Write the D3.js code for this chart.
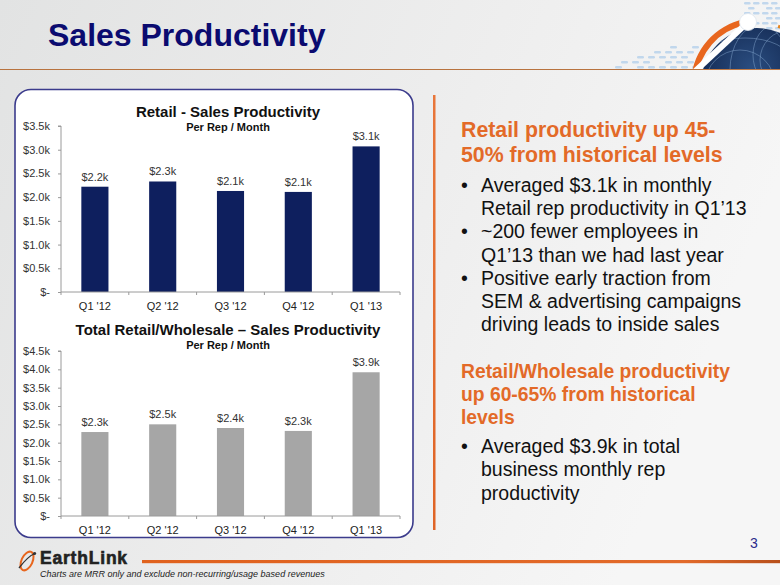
<!DOCTYPE html>
<html>
<head>
<meta charset="utf-8">
<script src="https://cdn.jsdelivr.net/npm/d3@7"></script>
<style>
  html, body { margin: 0; padding: 0; background: #ececec; }
  svg { display: block; font-family: Arial, "Liberation Sans", sans-serif; }
</style>
</head>
<body>
<svg id="chart" width="780" height="585"></svg>
<script>
// ---------- DATA ----------
const categories = ["Q1 '12", "Q2 '12", "Q3 '12", "Q4 '12", "Q1 '13"];
const retailValues = [2.22, 2.33, 2.13, 2.11, 3.07];
const retailLabels = ["$2.2k", "$2.3k", "$2.1k", "$2.1k", "$3.1k"];
const totalValues = [2.29, 2.50, 2.40, 2.32, 3.92];
const totalLabels = ["$2.3k", "$2.5k", "$2.4k", "$2.3k", "$3.9k"];
const retailTicks = [0, 0.5, 1.0, 1.5, 2.0, 2.5, 3.0, 3.5];
const totalTicks = [0, 0.5, 1.0, 1.5, 2.0, 2.5, 3.0, 3.5, 4.0, 4.5];
const pageTitle = "Sales Productivity";
const chart1Title = "Retail - Sales Productivity";
const chart2Title = "Total Retail/Wholesale \u2013 Sales Productivity";
const chartSubtitle = "Per Rep / Month";
const heading1 = ["Retail productivity up 45-", "50% from historical levels"];
const bullets1 = [
  ["Averaged $3.1k in monthly", "Retail rep productivity in Q1\u201913"],
  ["~200 fewer employees in", "Q1\u201913 than we had last year"],
  ["Positive early traction from", "SEM & advertising campaigns", "driving leads to inside sales"]
];
const heading2 = ["Retail/Wholesale productivity", "up 60-65% from historical", "levels"];
const bullets2 = [["Averaged $3.9k in total", "business monthly rep", "productivity"]];
const footnote = "Charts are MRR only and exclude non-recurring/usage based revenues";
const pageNumber = "3";

// ---------- SETUP ----------
const svg = d3.select("#chart");
const W = 780, H = 585;
const defs = svg.append("defs");

const bg = defs.append("linearGradient").attr("id", "bg").attr("x1", 0).attr("y1", 0).attr("x2", 1).attr("y2", 0.3);
bg.append("stop").attr("offset", "0%").attr("stop-color", "#e2e3e3");
bg.append("stop").attr("offset", "60%").attr("stop-color", "#eeeeee");
bg.append("stop").attr("offset", "100%").attr("stop-color", "#f6f6f6");
svg.append("rect").attr("width", W).attr("height", H).attr("fill", "url(#bg)");

// ---------- HEADER DECORATION (globe) ----------
const clip = defs.append("clipPath").attr("id", "topclip");
clip.append("rect").attr("x", 0).attr("y", 0).attr("width", W).attr("height", 69);
const globeClip = defs.append("clipPath").attr("id", "globeclip");
globeClip.append("circle").attr("cx", 757).attr("cy", 84).attr("r", 56);

const rg = defs.append("radialGradient").attr("id", "globe").attr("cx", "45%").attr("cy", "35%").attr("r", "70%");
rg.append("stop").attr("offset", "0%").attr("stop-color", "#2a4d80");
rg.append("stop").attr("offset", "100%").attr("stop-color", "#0a1a3e");

const deco = svg.append("g").attr("clip-path", "url(#topclip)");
// light blue dashes: lower-left cluster and upper-right cluster
const dashG = deco.append("g").attr("fill", "#b9d3ec").attr("opacity", 0.85);
for (let row = 0; row < 5; row++) {
  for (let col = 0; col < 8; col++) {
    const x = 700 - col * 11 - (row % 2) * 5;
    const y = 46 + row * 5;
    if (col > 2 + row * 1.5) continue;
    if ((row * 5 + col * 3) % 7 === 3) continue;
    dashG.append("rect").attr("x", x - 8).attr("y", y).attr("width", 7).attr("height", 2.4).attr("rx", 1.2);
  }
}
for (let row = 0; row < 8; row++) {
  for (let col = 0; col < 5; col++) {
    const x = 744 + col * 9 + (row % 2) * 4;
    const y = 2 + row * 5;
    if (col < (row > 4 ? 2 : 0)) continue;
    if ((row * 3 + col * 5) % 6 === 2) continue;
    dashG.append("rect").attr("x", x).attr("y", y).attr("width", 6.5).attr("height", 2.4).attr("rx", 1.2);
  }
}
deco.append("circle").attr("cx", 757).attr("cy", 84).attr("r", 56).attr("fill", "url(#globe)");
const gl = deco.append("g").attr("clip-path", "url(#globeclip)").attr("fill", "none")
  .attr("stroke", "#8fb0d8").attr("stroke-opacity", 0.55).attr("stroke-width", 0.8);
gl.append("ellipse").attr("cx", 760).attr("cy", 70).attr("rx", 30).attr("ry", 45);
gl.append("ellipse").attr("cx", 745).attr("cy", 60).attr("rx", 45).attr("ry", 22);
gl.append("ellipse").attr("cx", 775).attr("cy", 55).attr("rx", 22).attr("ry", 30);
gl.append("circle").attr("cx", 740).attr("cy", 85).attr("r", 35);
gl.append("circle").attr("cx", 790).attr("cy", 60).attr("r", 30);
const arc = d3.arc();
deco.append("path").attr("transform", "translate(757,84)")
  .attr("d", arc({ innerRadius: 60, outerRadius: 66, startAngle: -1.5, endAngle: -0.2 }))
  .attr("fill", "#e8661e");
deco.append("path").attr("transform", "translate(757,84)")
  .attr("d", arc({ innerRadius: 60, outerRadius: 63, startAngle: 0.35, endAngle: 1.3 }))
  .attr("fill", "#e8861e");
deco.append("line").attr("x1", 690).attr("y1", 76).attr("x2", 748).attr("y2", 22)
  .attr("stroke", "#ffffff").attr("stroke-width", 6);
deco.append("circle").attr("cx", 748).attr("cy", 22).attr("r", 8.5).attr("fill", "#ffffff")
  .attr("stroke", "#dde4ee").attr("stroke-width", 0.8);

svg.append("line").attr("x1", 0).attr("x2", 700).attr("y1", 69.5).attr("y2", 69.5)
  .attr("stroke", "#b8733f").attr("stroke-width", 1);
svg.append("line").attr("x1", 700).attr("x2", 780).attr("y1", 69.5).attr("y2", 69.5)
  .attr("stroke", "#c07a45").attr("stroke-width", 1);

// title
svg.append("text").attr("x", 48).attr("y", 46).text(pageTitle)
  .attr("font-size", 32).attr("font-weight", "bold").attr("fill", "#0b0b70");

// ---------- PANEL ----------
svg.append("rect").attr("x", 15).attr("y", 89.5).attr("width", 398).attr("height", 448)
  .attr("rx", 16).attr("fill", "#ffffff").attr("stroke", "#3b3b8c").attr("stroke-width", 1.6);

function drawChart(cfg) {
  const g = svg.append("g");
  const x = d3.scaleBand().domain(categories).range([61, 400]).paddingInner(0.6).paddingOuter(0.3);
  const y = d3.scaleLinear().domain(cfg.domain).range(cfg.range);

  // titles
  g.append("text").attr("x", 228).attr("y", cfg.titleY).attr("text-anchor", "middle")
    .attr("font-size", 15).attr("font-weight", "bold").attr("fill", "#111").text(cfg.title);
  g.append("text").attr("x", 228).attr("y", cfg.titleY + 14).attr("text-anchor", "middle")
    .attr("font-size", 11).attr("font-weight", "bold").attr("fill", "#111").text(chartSubtitle);

  // y axis
  const yAxis = d3.axisLeft(y).tickValues(cfg.ticks).tickSize(3).tickPadding(8)
    .tickFormat(v => v === 0 ? "$-" : "$" + v.toFixed(1) + "k");
  const ya = g.append("g").attr("transform", "translate(61,0)").call(yAxis);
  ya.select(".domain").attr("stroke", "#9a9a9a").attr("d", `M-3,${cfg.range[1]}H0V${cfg.range[0]}`);
  ya.selectAll(".tick line").attr("stroke", "#9a9a9a");
  ya.selectAll(".tick text").attr("font-size", 11).attr("fill", "#333").attr("font-family", "Arial, 'Liberation Sans', sans-serif");

  // bars
  g.selectAll(".bar").data(cfg.values).enter().append("rect")
    .attr("x", (d, i) => x(categories[i]))
    .attr("width", x.bandwidth())
    .attr("y", d => y(d))
    .attr("height", d => y(0) - y(d))
    .attr("fill", cfg.color);

  g.selectAll(".lbl").data(cfg.values).enter().append("text")
    .attr("x", (d, i) => x(categories[i]) + x.bandwidth() / 2)
    .attr("y", d => y(d) - 6)
    .attr("text-anchor", "middle").attr("font-size", 11).attr("fill", "#333")
    .text((d, i) => cfg.labels[i]);

  // x axis
  const xAxis = d3.axisBottom(x).tickSize(0).tickPadding(10);
  const xa = g.append("g").attr("transform", `translate(0,${cfg.range[0]})`).call(xAxis);
  xa.select(".domain").attr("stroke", "#9a9a9a").attr("d", "M61,0H400");
  xa.selectAll(".tick text").attr("font-size", 11).attr("fill", "#222").attr("font-family", "Arial, 'Liberation Sans', sans-serif");
  const bounds = categories.map(c => x(c) - x.step() * x.paddingOuter()).concat([400]);
  xa.selectAll(".bound").data(bounds).enter().append("line")
    .attr("x1", d => d).attr("x2", d => d).attr("y1", 0).attr("y2", 3).attr("stroke", "#9a9a9a");
}

drawChart({ title: chart1Title, titleY: 117, domain: [0, 3.5], range: [292, 126], ticks: retailTicks,
  values: retailValues, labels: retailLabels, color: "#0e1f5e" });
drawChart({ title: chart2Title, titleY: 335, domain: [0, 4.5], range: [516, 351], ticks: totalTicks,
  values: totalValues, labels: totalLabels, color: "#a6a6a6" });

// ---------- RIGHT TEXT ----------
const vg = defs.append("linearGradient").attr("id", "vline").attr("x1", 0).attr("y1", 0).attr("x2", 0).attr("y2", 1);
vg.append("stop").attr("offset", "0%").attr("stop-color", "#e8763a");
vg.append("stop").attr("offset", "100%").attr("stop-color", "#df6426");
svg.append("rect").attr("x", 433).attr("y", 95).attr("width", 2.5).attr("height", 435).attr("fill", "url(#vline)");

const orange = "#e36a28";
const tx = svg.append("g");
function lines(arr, x0, y0, lh, size, weight, color) {
  arr.forEach((t, i) => tx.append("text").attr("x", x0).attr("y", y0 + i * lh)
    .attr("font-size", size).attr("font-weight", weight).attr("fill", color).text(t));
}
lines(heading1, 461, 137, 25, 21.3, "bold", orange);
let yb = 192;
bullets1.forEach(b => {
  tx.append("text").attr("x", 461).attr("y", yb).attr("font-size", 19.5).attr("fill", "#111").text("\u2022");
  lines(b, 481, yb, 23.2, 19.5, "normal", "#111");
  yb += b.length * 23.2;
});
lines(heading2, 461, 378, 23, 19.3, "bold", orange);
yb = 453;
bullets2.forEach(b => {
  tx.append("text").attr("x", 461).attr("y", yb).attr("font-size", 19.5).attr("fill", "#111").text("\u2022");
  lines(b, 481, yb, 23.3, 19.5, "normal", "#111");
  yb += b.length * 23.3;
});

svg.append("text").attr("x", 750).attr("y", 548).attr("font-size", 14).attr("fill", "#2b2b8a").text(pageNumber);

// ---------- FOOTER ----------
const bl = defs.append("linearGradient").attr("id", "bline").attr("x1", 0).attr("y1", 0).attr("x2", 1).attr("y2", 0);
bl.append("stop").attr("offset", "0%").attr("stop-color", "#e0621e");
bl.append("stop").attr("offset", "85%").attr("stop-color", "#e26a2a");
bl.append("stop").attr("offset", "100%").attr("stop-color", "#b8501c");
svg.append("rect").attr("x", 142).attr("y", 560).attr("width", 638).attr("height", 3.2).attr("fill", "url(#bline)");

// logo
const logo = svg.append("g");
logo.append("ellipse").attr("cx", 27).attr("cy", 561).attr("rx", 5.5).attr("ry", 10)
  .attr("transform", "rotate(25,27,561)").attr("fill", "none").attr("stroke", "#e8661e").attr("stroke-width", 2);
logo.append("path").attr("d", "M19,568 Q28,556 36,553").attr("fill", "none").attr("stroke", "#333").attr("stroke-width", 1.3);
logo.append("circle").attr("cx", 34.5).attr("cy", 553.5).attr("r", 1.6).attr("fill", "#333");
logo.append("text").attr("x", 40).attr("y", 564).attr("font-size", 17.5).attr("font-weight", "bold")
  .attr("letter-spacing", 0.8).attr("fill", "#222").attr("stroke", "#222").attr("stroke-width", 0.6)
  .text("EarthLink");

svg.append("text").attr("x", 40).attr("y", 577).attr("font-size", 9).attr("font-style", "italic")
  .attr("fill", "#222").text(footnote);
</script>
</body>
</html>
